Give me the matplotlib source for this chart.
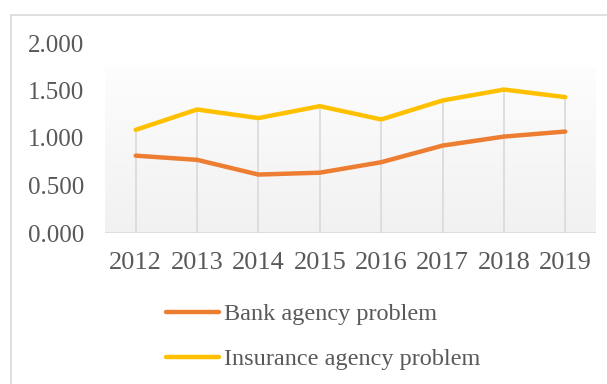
import matplotlib
matplotlib.use("Agg")
import matplotlib.pyplot as plt
import numpy as np
from matplotlib.patches import Rectangle
from matplotlib.colors import LinearSegmentedColormap

years = ["2012", "2013", "2014", "2015", "2016", "2017", "2018", "2019"]
bank = [0.814, 0.770, 0.615, 0.635, 0.745, 0.920, 1.015, 1.068]
insurance = [1.086, 1.300, 1.210, 1.335, 1.195, 1.395, 1.510, 1.430]
y_ticks = [0.0, 0.5, 1.0, 1.5, 2.0]
y_labels = ["0.000", "0.500", "1.000", "1.500", "2.000"]

W, H = 607, 384
plt.rcParams['font.family'] = ['Liberation Serif', 'DejaVu Serif']
grey = '#595959'

fig = plt.figure(figsize=(W / 100, H / 100), dpi=100)
fig.patch.set_facecolor('white')

# outer chart border
fig.add_artist(Rectangle((10.5 / W, -0.1), 1.2, (H - 14.5) / H + 0.1,
                         transform=fig.transFigure, fill=False,
                         edgecolor='#d9d9d9', linewidth=1.2))

ax = fig.add_axes([105 / W, (H - 233) / H, (596 - 105) / W, (233 - 43) / H])
x = np.arange(len(years))
ax.set_xlim(-0.5, len(years) - 0.5)
ax.set_ylim(0, 2.0)

# plot area gradient
grad = np.linspace(0, 1, 256).reshape(-1, 1)
cmap = LinearSegmentedColormap.from_list('g', ['#f1f1f1', '#fdfdfd'])
ax.imshow(grad, extent=[-0.5, len(years) - 0.5, 0, 1.74], origin='lower',
          aspect='auto', cmap=cmap, zorder=0)

# drop lines
tops = np.maximum(bank, insurance)
ax.vlines(x, 0, tops, color='#d9d9d9', linewidth=1.2, zorder=1)
ax.axhline(0, color='#d9d9d9', linewidth=1.8, zorder=1)

l1, = ax.plot(x, bank, color='#ED7D31', linewidth=3.2, solid_capstyle='round',
              label='Bank agency problem', zorder=3)
l2, = ax.plot(x, insurance, color='#FFC000', linewidth=3.2, solid_capstyle='round',
              label='Insurance agency problem', zorder=3)

for s in ax.spines.values():
    s.set_visible(False)
ax.set_xticks(x)
ax.set_xticklabels(years)
ax.set_yticks(y_ticks)
ax.set_yticklabels(y_labels)
ax.tick_params(axis='both', length=0, labelcolor=grey)
ax.tick_params(axis='y', pad=15, labelsize=18)
ax.tick_params(axis='x', pad=14, labelsize=19)

fig.legend(handles=[l1, l2], loc='upper left',
           bbox_to_anchor=(166 / W, (H - 303) / H), frameon=False,
           fontsize=17.5, labelcolor=grey, handlelength=2.2, handletextpad=0.2,
           labelspacing=0.95, borderpad=0, borderaxespad=0)

fig.savefig('out.png', dpi=100)
